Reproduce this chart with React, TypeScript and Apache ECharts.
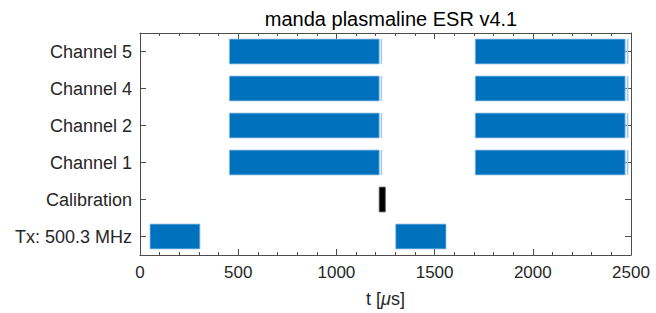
import React, { useEffect, useRef } from "react";
import * as echarts from "echarts";

const categories = ["Tx: 500.3 MHz", "Calibration", "Channel 1", "Channel 2", "Channel 4", "Channel 5"];
const xTicks = [0, 500, 1000, 1500, 2000, 2500];

// [category index, start (µs), end (µs)]
const txPulses = [
  [0, 51, 305],
  [0, 1302, 1558],
];
const calPulses = [[1, 1218, 1249]];
const rxWindows = [
  [2, 455, 1218], [2, 1707, 2470],
  [3, 455, 1218], [3, 1707, 2470],
  [4, 455, 1218], [4, 1707, 2470],
  [5, 455, 1218], [5, 1707, 2470],
];
const rxTails = [
  [2, 1225, 1233], [2, 2478, 2487],
  [3, 1225, 1233], [3, 2478, 2487],
  [4, 1225, 1233], [4, 2478, 2487],
  [5, 1225, 1233], [5, 2478, 2487],
];

const FONT = "'Liberation Sans', Arial, Helvetica, sans-serif";
const TXT = "#262626";
const AX = "#4d4d4d";

function makeRender(fill: string, stroke: string | null) {
  return (params: any, api: any) => {
    const cat = api.value(0);
    const s = api.coord([api.value(1), cat]);
    const e = api.coord([api.value(2), cat]);
    const h = api.size([0, 1])[1] * 0.67;
    return {
      type: "rect",
      shape: { x: s[0], y: s[1] - h / 2, width: Math.max(e[0] - s[0], 1), height: h },
      style: stroke ? { fill, stroke, lineWidth: 0.8 } : { fill },
    };
  };
}

export default function App() {
  const ref = useRef<HTMLDivElement>(null);
  useEffect(() => {
    if (!ref.current) return;
    const chart = echarts.init(ref.current, null, { renderer: "svg" });
    const xBase = {
      type: "value",
      min: 0,
      max: 2500,
      interval: 500,
      axisLine: { show: true, onZero: false, lineStyle: { color: AX, width: 1 } },
      axisTick: { show: true, inside: true, length: 6, lineStyle: { color: AX } },
      minorTick: { show: true, splitNumber: 5, length: 3, lineStyle: { color: AX } },
      splitLine: { show: false },
    };
    const yBase = {
      type: "category",
      data: categories,
      boundaryGap: true,
      axisLine: { show: true, onZero: false, lineStyle: { color: AX, width: 1 } },
      axisTick: { show: true, inside: true, length: 6, alignWithLabel: true, lineStyle: { color: AX } },
      splitLine: { show: false },
    };
    chart.setOption({
      animation: false,
      title: {
        text: "manda plasmaline ESR v4.1",
        left: 386,
        top: 4,
        textAlign: "center",
        textStyle: { fontFamily: FONT, fontSize: 20, fontWeight: "normal", color: "#000" },
      },
      grid: { left: 140, right: 25, top: 33, bottom: 58, containLabel: false },
      xAxis: [
        {
          ...xBase,
          position: "bottom",
          axisLabel: {
            show: true,
            margin: 9,
            fontFamily: FONT,
            fontSize: 17,
            color: TXT,
            formatter: (v: number) => (xTicks.includes(v) ? String(v) : ""),
          },
          name: "t [{i|μ}s]",
          nameLocation: "middle",
          nameGap: 35,
          nameTextStyle: {
            fontFamily: FONT,
            fontSize: 18,
            color: TXT,
            verticalAlign: "top",
            rich: { i: { fontFamily: FONT, fontSize: 18, fontStyle: "italic", color: TXT } },
          },
        },
        { ...xBase, position: "top", axisLabel: { show: false } },
      ],
      yAxis: [
        {
          ...yBase,
          position: "left",
          axisLabel: { show: true, margin: 8, fontFamily: FONT, fontSize: 18, color: TXT },
        },
        { ...yBase, position: "right", axisLabel: { show: false } },
      ],
      series: [
        {
          type: "custom",
          xAxisIndex: 0,
          yAxisIndex: 0,
          renderItem: makeRender("#0072BD", "#8fbde3"),
          encode: { x: [1, 2], y: 0 },
          data: [...txPulses, ...rxWindows],
        },
        {
          type: "custom",
          xAxisIndex: 0,
          yAxisIndex: 0,
          renderItem: makeRender("#a3cbea", null),
          encode: { x: [1, 2], y: 0 },
          data: rxTails,
        },
        {
          type: "custom",
          xAxisIndex: 0,
          yAxisIndex: 0,
          renderItem: makeRender("#000000", "#555555"),
          encode: { x: [1, 2], y: 0 },
          data: calPulses,
        },
      ],
    });
    return () => chart.dispose();
  }, []);
  return <div ref={ref} style={{ position: "absolute", left: 0, top: 0, width: 656, height: 313 }} />;
}
